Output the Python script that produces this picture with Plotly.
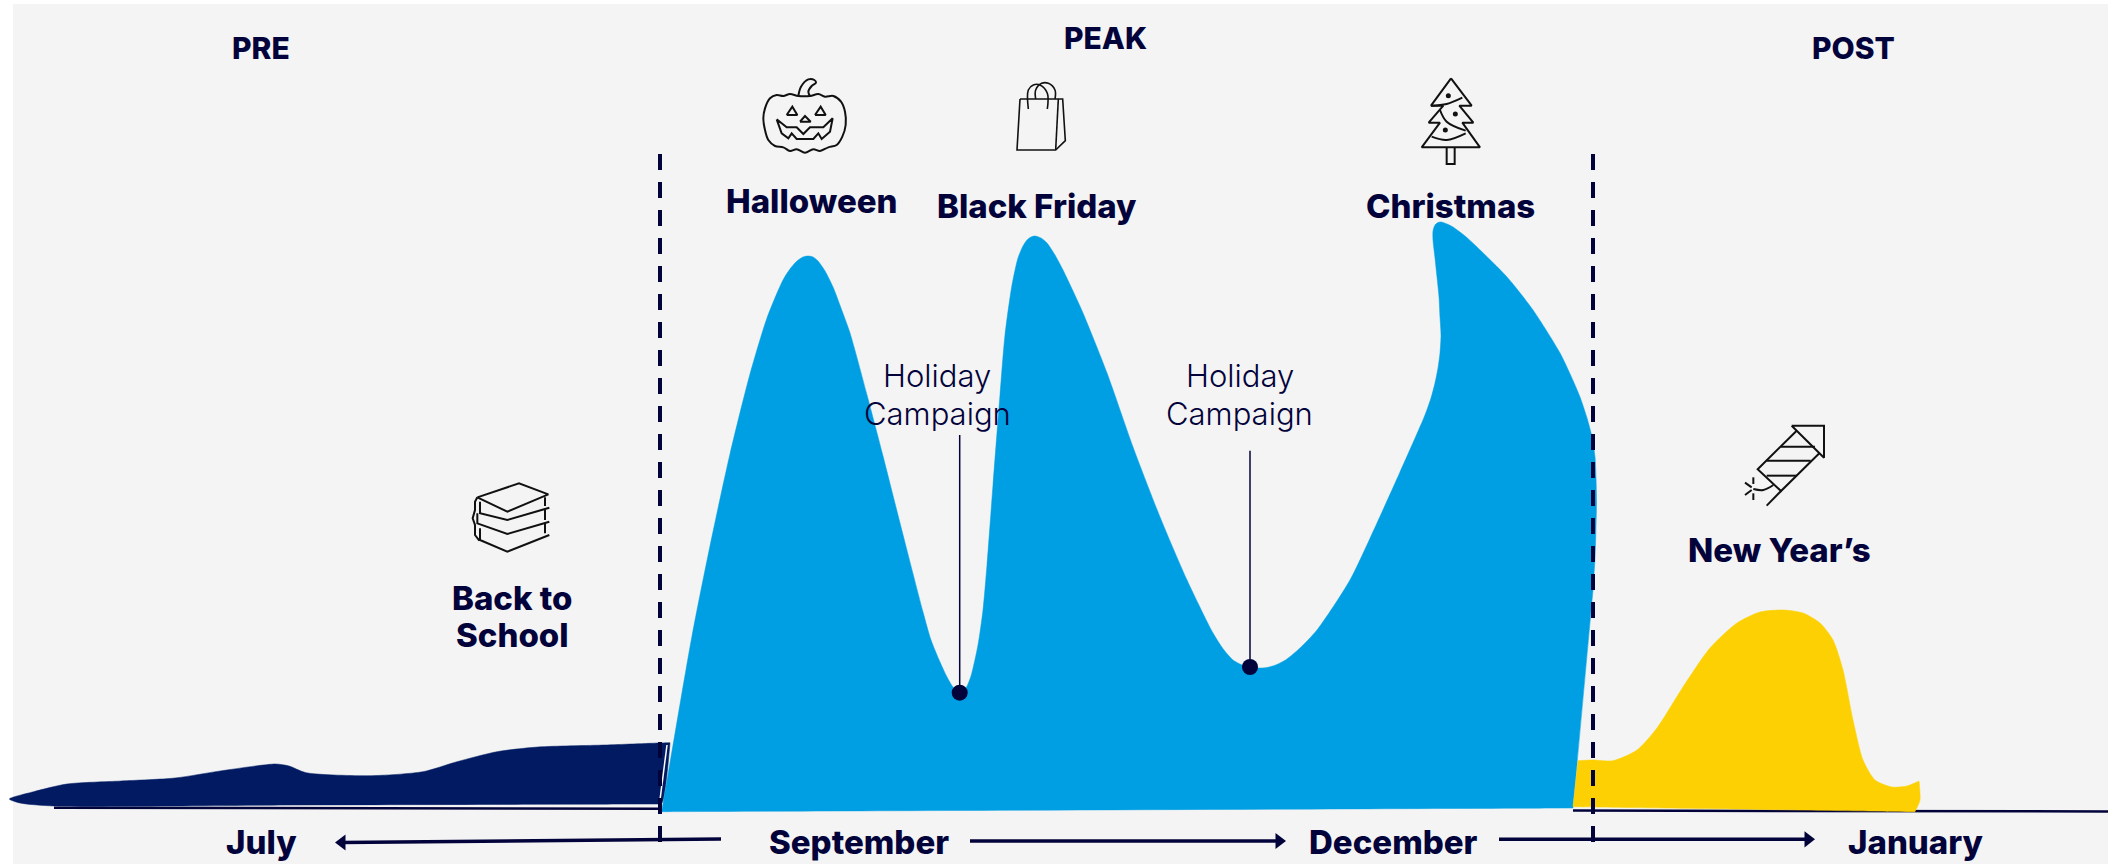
import plotly.graph_objects as go

# ---- data: curves (axis units: reference pixels) ----
pre_x = [9.4, 33.6, 67, 121, 175, 222, 275.5, 289, 306, 370, 423, 457, 497, 538, 605, 658.6, 670, 670, 662, 657, 657, 300, 54, 20, 9.4]
pre_y = [799, 791.7, 784, 781, 778, 770.7, 764, 766, 772.7, 775.7, 771.7, 761.7, 751.7, 747, 745, 743, 742.7, 742.7, 803, 804, 804, 805, 806, 803, 799]

peak_x = [661.7, 661.7, 670, 692, 710, 730, 750, 767, 783, 790, 797, 803, 808, 813, 818, 825, 833, 841, 850, 867, 883, 900, 923, 931, 940, 947, 953, 960, 966, 971, 978, 983, 987, 993, 1000, 1005, 1012, 1018, 1023, 1027, 1031, 1035, 1041, 1047, 1055, 1063, 1073, 1083, 1107, 1133, 1160, 1187, 1213, 1224, 1233, 1242, 1250, 1258, 1267, 1277, 1287, 1300, 1317, 1350, 1377, 1400, 1425, 1431, 1435, 1438, 1440, 1441, 1440, 1439, 1437, 1435, 1433, 1433, 1435, 1438, 1441, 1447, 1453, 1465, 1477, 1507, 1533, 1560, 1571, 1580, 1587, 1592, 1595, 1596, 1596.5, 1596, 1595, 1593, 1593, 1573, 1573, 661.7, 661.7]
peak_y = [811.7, 811.7, 763, 636, 546, 454, 374, 318, 280, 269, 261, 257, 256, 257, 261, 271, 287, 308, 333, 395, 456, 523, 612, 640, 662, 677, 687, 693, 688, 676, 645, 610, 565, 485, 395, 335, 285, 258, 246, 240, 237, 236, 238, 243, 255, 270, 291, 313, 373, 447, 517, 580, 633, 650, 660, 665, 667, 668, 667.5, 664.5, 659, 648, 630, 580, 523, 472, 415, 398, 383, 368, 353, 335, 317, 297, 277, 258, 240, 231, 225, 222.5, 222, 224, 227, 236, 247, 277, 310, 353, 376, 397, 418, 437, 457, 477, 502, 527, 558, 590, 590, 808, 808, 811.7, 811.7]

post_x = [1573, 1573, 1578, 1578, 1593, 1613, 1637, 1657, 1683, 1710, 1737, 1760, 1783, 1803, 1820, 1833, 1843, 1853, 1863, 1875, 1892, 1907, 1919, 1919, 1920, 1915, 1915, 1573, 1573]
post_y = [806.7, 806.7, 760.7, 760.7, 760, 760.7, 750, 728, 687, 648, 623, 612, 610, 613, 623, 640, 670, 720, 760, 780, 787, 786, 781, 781, 800, 811.7, 811.7, 806.7, 806.7]

campaign_x = [959.7, 1250]
campaign_y = [692.7, 667]
campaign_top = [435, 450.7]

phases = ["PRE", "PEAK", "POST"]
phase_x = [261, 1105, 1853]
phase_y = [48, 38, 48]

events = ["Halloween", "Black Friday", "Christmas", "Back to", "School", "New Year’s"]
event_x = [812, 1037, 1450, 512, 512, 1779]
event_y = [201, 206, 206, 598, 635, 550]

months = ["July", "September", "December", "January"]
month_x = [261, 859, 1393, 1916]
month_y = [842, 842, 842, 842]

holiday_lines = ["Holiday", "Campaign"]
holiday_x = [937, 1239.5]
holiday_y = [375.5, 413.5]

# ---- icons: line drawings, given in pixels of a 3x crop with its origin ----
pumpkin = [
    ([(130,78),(105,72),(85,78),(65,75),(45,85),(30,115),(25,145),(30,180),(40,210),(60,228),(85,232),(105,243),(125,238),(150,248),(175,238),(195,243),(220,232),(245,225),(262,200),(272,165),(270,125),(258,95),(235,78),(210,80),(190,72),(165,78),(130,78)], "spline"),
    ([(130,78),(138,50),(160,28),(178,30),(183,38),(170,48),(160,65),(165,78)], "spline"),
    ([(95,135),(112,110),(127,135),(95,135)], "linear"),
    ([(180,135),(197,110),(212,135),(180,135)], "linear"),
    ([(135,155),(150,138),(167,155),(135,155)], "linear"),
    ([(65,148),(95,172),(125,172),(145,192),(165,172),(205,172),(233,145),(225,185),(200,207),(190,190),(175,207),(125,207),(110,190),(100,205),(80,190),(65,148)], "linear"),
]
bag = [
    ([(1110,297),(1238,297),(1246,422),(1217,450),(1101,450),(1110,297)], "linear"),
    ([(1225,297),(1217,450)], "linear"),
    ([(1135,327),(1135,270),(1150,255),(1170,255),(1192,280),(1192,327)], "spline"),
    ([(1157,297),(1157,270),(1175,250),(1195,250),(1215,270),(1215,297)], "spline"),
]
tree = [
    ([(453,85),(515,167),(478,167),(520,218),(487,218),(540,292),(365,292),(420,218),(386,218),(430,167),(393,167),(453,85)], "linear"),
    ([(440,293),(440,342),(464,342),(464,293)], "linear"),
    ([(393,167),(440,162),(487,143)], "spline"),
    ([(420,180),(440,215),(497,242)], "spline"),
    ([(395,260),(440,270),(497,250)], "spline"),
]
tree_dots = [(445,137),(466,192),(436,240)]
books = [
    ([(172,112),(297,70),(385,103),(262,155),(172,112)], "linear"),
    ([(180,125),(180,160),(262,180),(388,143)], "linear"),
    ([(375,112),(375,138)], "linear"),
    ([(172,160),(172,190),(262,222),(388,185)], "linear"),
    ([(375,150),(375,180)], "linear"),
    ([(180,205),(180,240),(262,275),(388,225)], "linear"),
    ([(375,190),(375,220)], "linear"),
    ([(172,112),(165,125),(165,150),(158,175),(165,195),(165,225),(178,242)], "linear"),
]
rocket = [
    ([(275,47),(372,47),(372,143),(275,47)], "linear"),
    ([(290,62),(173,178),(243,243),(358,130)], "linear"),
    ([(243,110),(345,110)], "linear"),
    ([(200,152),(332,152)], "linear"),
    ([(200,197),(290,197)], "linear"),
    ([(243,243),(200,287)], "linear"),
    ([(160,237),(190,240),(220,225)], "spline"),
    ([(160,202),(160,222)], "linear"),
    ([(160,250),(160,270)], "linear"),
    ([(135,218),(155,232)], "linear"),
    ([(135,255),(155,240)], "linear"),
]

# ---- styles ----
INK = "#03033B"
BLUE = "#009EE3"
NAVY = "#011A62"
YELLOW = "#FDD003"
PANEL = "#F4F4F4"
FONT = "Inter"

fig = go.Figure()

def area(xs, ys, color):
    fig.add_trace(go.Scatter(x=xs, y=ys, mode="lines", fill="toself", fillcolor=color,
                             line=dict(color=color, width=0.5, shape="spline", smoothing=0.7, simplify=False),
                             hoverinfo="skip", showlegend=False))

def line(xs, ys, width=1.5, dash="solid", color=INK):
    fig.add_trace(go.Scatter(x=xs, y=ys, mode="lines",
                             line=dict(color=color, width=width, dash=dash),
                             hoverinfo="skip", showlegend=False))

def draw_icon(parts, ox, oy, width=2.0, color="#111111"):
    for pts, shape in parts:
        fig.add_trace(go.Scatter(x=[ox + p[0] / 3 for p in pts], y=[oy + p[1] / 3 for p in pts],
                                 mode="lines", line=dict(color=color, width=width, shape=shape),
                                 hoverinfo="skip", showlegend=False))

# base lines
line([54, 658], [807.7, 808.7], 2.5)
line([1573, 2108], [810.5, 811.5], 2.5)

area(pre_x, pre_y, NAVY)
line([667, 660], [745, 800], 1.5, color="white")
area(peak_x, peak_y, BLUE)
area(post_x, post_y, YELLOW)

# phase dividers
for x in (660, 1593):
    line([x, x], [154, 843], 4, "16px,12px")

# holiday campaign stems
for x, y, t in zip(campaign_x, campaign_y, campaign_top):
    line([x, x], [t, y], 1.5)
fig.add_trace(go.Scatter(x=campaign_x, y=campaign_y, mode="markers",
                         marker=dict(color=INK, size=16), hoverinfo="skip", showlegend=False))

# month arrows
arrows = [([721, 342], [839, 842.5], "triangle-left"),
          ([970, 1279], [841, 841], "triangle-right"),
          ([1499, 1808], [839.3, 839.3], "triangle-right")]
for xs, ys, sym in arrows:
    line(xs, ys, 3.5)
    fig.add_trace(go.Scatter(x=[xs[1]], y=[ys[1]], mode="markers",
                             marker=dict(color=INK, size=14, symbol=sym),
                             hoverinfo="skip", showlegend=False))

# icons
draw_icon(pumpkin, 755, 70)
draw_icon(bag, 650, 0, 1.6)
draw_icon(tree, 1300, 50, 2.0)
fig.add_trace(go.Scatter(x=[1300 + p[0] / 3 for p in tree_dots], y=[50 + p[1] / 3 for p in tree_dots],
                         mode="markers", marker=dict(color="#111111", size=5),
                         hoverinfo="skip", showlegend=False))
draw_icon(books, 420, 460, 2.0)
draw_icon(rocket, 1700, 410, 2.0)

def label(text, x, y, size, weight=800):
    fig.add_annotation(x=x, y=y, text=text, showarrow=False, xanchor="center", yanchor="middle",
                       font=dict(family=FONT, size=size, color=INK, weight=weight))

for t, x, y in zip(phases, phase_x, phase_y):
    label(t, x, y, 30)
for t, x, y in zip(events, event_x, event_y):
    label(t, x, y, 33)
for t, x, y in zip(months, month_x, month_y):
    label(t, x, y, 33)
for x in holiday_x:
    for t, y in zip(holiday_lines, holiday_y):
        label(t, x, y, 31, 300)

fig.update_layout(
    width=2108, height=864,
    margin=dict(l=0, r=0, t=0, b=0),
    paper_bgcolor="white", plot_bgcolor="white",
    showlegend=False,
    xaxis=dict(range=[0, 2108], visible=False, fixedrange=True),
    yaxis=dict(range=[864, 0], visible=False, fixedrange=True),
    shapes=[dict(type="rect", xref="x", yref="y", x0=13, x1=2108, y0=4, y1=864,
                 fillcolor=PANEL, line=dict(width=0), layer="below")],
)
fig.write_html("out.html", post_script="document.body.style.margin='0';", config=dict(displayModeBar=False))
